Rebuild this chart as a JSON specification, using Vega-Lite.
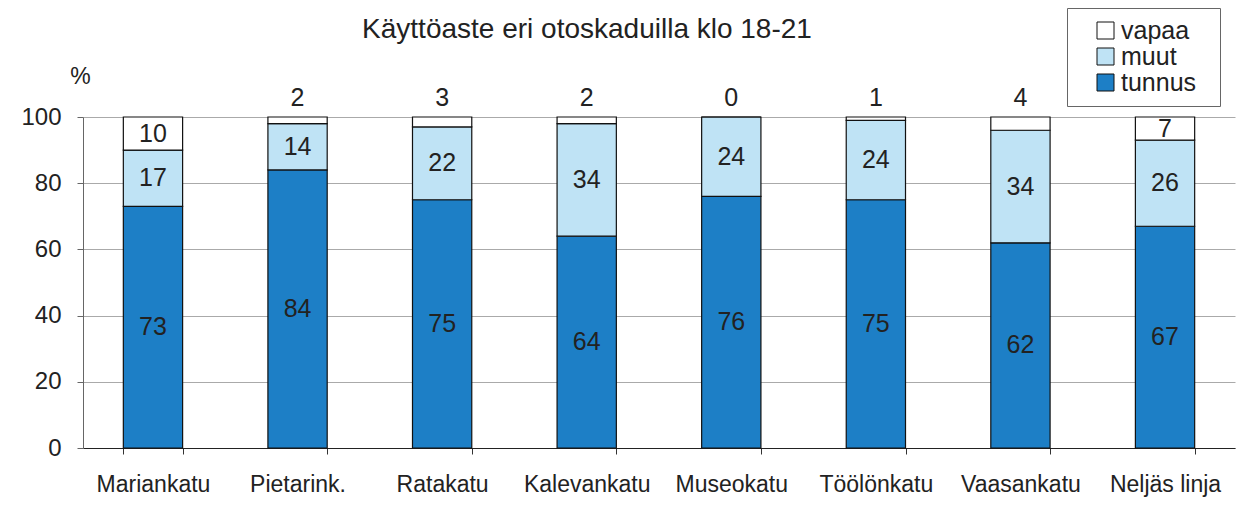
{
  "$schema": "https://vega.github.io/schema/vega-lite/v6.json",
  "autosize": {"type": "none"},
  "padding": {"top": 117, "left": 83, "right": 6, "bottom": 61},
  "width": 1152,
  "height": 331,
  "background": "white",
  "title": {
    "text": "Käyttöaste eri otoskaduilla klo 18-21",
    "anchor": "middle",
    "frame": "group",
    "dx": -72,
    "offset": -58,
    "baseline": "alphabetic",
    "font": "Liberation Sans",
    "fontSize": 28,
    "fontWeight": "normal",
    "color": "#222"
  },
  "config": {
    "font": "Liberation Sans",
    "view": {"stroke": null}
  },
  "data": {
    "values": [
      {"katu": "Mariankatu", "luokka": "tunnus", "arvo": 73},
      {"katu": "Mariankatu", "luokka": "muut", "arvo": 17},
      {"katu": "Mariankatu", "luokka": "vapaa", "arvo": 10},
      {"katu": "Pietarink.", "luokka": "tunnus", "arvo": 84},
      {"katu": "Pietarink.", "luokka": "muut", "arvo": 14},
      {"katu": "Pietarink.", "luokka": "vapaa", "arvo": 2},
      {"katu": "Ratakatu", "luokka": "tunnus", "arvo": 75},
      {"katu": "Ratakatu", "luokka": "muut", "arvo": 22},
      {"katu": "Ratakatu", "luokka": "vapaa", "arvo": 3},
      {"katu": "Kalevankatu", "luokka": "tunnus", "arvo": 64},
      {"katu": "Kalevankatu", "luokka": "muut", "arvo": 34},
      {"katu": "Kalevankatu", "luokka": "vapaa", "arvo": 2},
      {"katu": "Museokatu", "luokka": "tunnus", "arvo": 76},
      {"katu": "Museokatu", "luokka": "muut", "arvo": 24},
      {"katu": "Museokatu", "luokka": "vapaa", "arvo": 0},
      {"katu": "Töölönkatu", "luokka": "tunnus", "arvo": 75},
      {"katu": "Töölönkatu", "luokka": "muut", "arvo": 24},
      {"katu": "Töölönkatu", "luokka": "vapaa", "arvo": 1},
      {"katu": "Vaasankatu", "luokka": "tunnus", "arvo": 62},
      {"katu": "Vaasankatu", "luokka": "muut", "arvo": 34},
      {"katu": "Vaasankatu", "luokka": "vapaa", "arvo": 4},
      {"katu": "Neljäs linja", "luokka": "tunnus", "arvo": 67},
      {"katu": "Neljäs linja", "luokka": "muut", "arvo": 26},
      {"katu": "Neljäs linja", "luokka": "vapaa", "arvo": 7}
    ]
  },
  "transform": [
    {"calculate": "indexof(['tunnus','muut','vapaa'], datum.luokka)", "as": "jarj"},
    {"stack": "arvo", "groupby": ["katu"], "sort": [{"field": "jarj", "order": "ascending"}], "as": ["y0", "y1"]},
    {"calculate": "(datum.y0 + datum.y1) / 2", "as": "ymid"}
  ],
  "encoding": {
    "x": {
      "field": "katu",
      "type": "nominal",
      "sort": null,
      "scale": {"paddingInner": 0.59, "paddingOuter": 0.279},
      "axis": {
        "title": null,
        "labelAngle": 0,
        "labelFontSize": 23,
        "labelColor": "#222",
        "labelPadding": 19,
        "tickBand": "extent",
        "tickSize": 6,
        "tickColor": "#333",
        "domainColor": "#222",
        "domainWidth": 1.2,
        "grid": false
      }
    }
  },
  "layer": [
    {
      "mark": {"type": "bar", "stroke": "#111", "strokeWidth": 1.2},
      "encoding": {
        "y": {
          "field": "y0",
          "type": "quantitative",
          "scale": {"domain": [0, 100], "nice": false},
          "axis": {
            "values": [0, 20, 40, 60, 80, 100],
            "title": "%",
            "titleAngle": 0,
            "titleX": -3,
            "titleY": -34,
            "titleAlign": "center",
            "titleBaseline": "alphabetic",
            "titleFontSize": 23,
            "titleFontWeight": "normal",
            "titleColor": "#222",
            "labelFontSize": 24,
            "labelColor": "#222",
            "labelPadding": 16,
            "tickSize": 6,
            "tickColor": "#666",
            "domainColor": "#666",
            "gridColor": "#aaa",
            "gridWidth": 1
          }
        },
        "y2": {"field": "y1"},
        "color": {
          "field": "luokka",
          "type": "nominal",
          "scale": {"domain": ["vapaa", "muut", "tunnus"], "range": ["#ffffff", "#bfe3f5", "#1d7fc6"]},
          "legend": {
            "title": "\u00a0",
            "titleOrient": "right",
            "titlePadding": 14,
            "titleFontSize": 25,
            "orient": "none",
            "legendX": 984,
            "legendY": -109,
            "padding": 10,
            "fillColor": "white",
            "strokeColor": "#666",
            "symbolType": "square",
            "symbolSize": 289,
            "symbolStrokeColor": "#111",
            "symbolStrokeWidth": 1,
            "symbolOffset": 16,
            "labelFontSize": 25,
            "labelColor": "#222",
            "labelOffset": 3,
            "rowPadding": 0
          }
        }
      }
    },
    {
      "transform": [{"filter": "datum.arvo >= 5"}],
      "mark": {"type": "text", "fontSize": 25, "color": "#222", "baseline": "middle"},
      "encoding": {
        "y": {"field": "ymid", "type": "quantitative"},
        "text": {"field": "arvo", "type": "quantitative"}
      }
    },
    {
      "transform": [{"filter": "datum.arvo < 5"}],
      "mark": {"type": "text", "fontSize": 25, "color": "#222", "baseline": "alphabetic", "dy": -11},
      "encoding": {
        "y": {"field": "y1", "type": "quantitative"},
        "text": {"field": "arvo", "type": "quantitative"}
      }
    }
  ]
}
